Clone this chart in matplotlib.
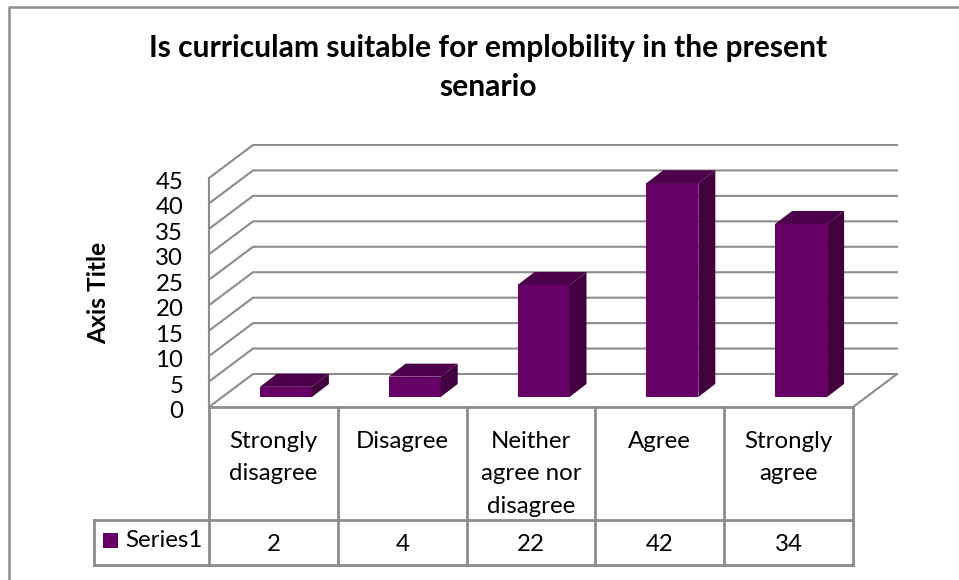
import matplotlib
matplotlib.use('Agg')
import matplotlib.pyplot as plt
from matplotlib.patches import Polygon, Rectangle
from matplotlib.transforms import ScaledTranslation

# Chart data
categories = ['Strongly\ndisagree', 'Disagree', 'Neither\nagree nor\ndisagree', 'Agree', 'Strongly\nagree']
values = [2, 4, 22, 42, 34]
series_name = 'Series1'
y_ticks = [0, 5, 10, 15, 20, 25, 30, 35, 40, 45]

W, H = 959, 580
plt.rcParams['font.family'] = ['Lato', 'DejaVu Sans']

GRID = '#8c8c8c'
FRONT = '#660066'
SIDE = '#42003f'
TOP = '#4c004c'
FS = 17.3

fig = plt.figure(figsize=(W / 100, H / 100), dpi=100)

# page layer in pixel units for the chart frame
page = fig.add_axes([0, 0, 1, 1])
page.set_xlim(0, W)
page.set_ylim(H, 0)
page.axis('off')
# only the top and left edges of the frame are in the picture
page.plot([9, 9, W], [H, 7, 7], color=GRID, lw=1.8)

# main axes is the front plane of the 3d box
x0, x1, y0, y45 = 209, 853, 407, 178
ax = fig.add_axes([x0 / W, 1 - y0 / H, (x1 - x0) / W, (y0 - y45) / H])
ax.patch.set_alpha(0)
ax.set_xlim(0, len(values))
ax.set_ylim(0, 45)
for s in ax.spines.values():
    s.set_visible(False)
ax.set_xticks([])
ax.set_yticks(y_ticks)
ax.tick_params(axis='y', length=0, pad=18.5, labelsize=FS, labelcolor='black')
# labels sit a little below their gridline
for lab in ax.get_yticklabels():
    lab.set_transform(lab.get_transform() + ScaledTranslation(0, -2.5 / 100, fig.dpi_scale_trans))

px = len(values) / (x1 - x0)   # data units per pixel, x
py = 45 / (y0 - y45)           # data units per pixel, y
dx, dy = 44 * px, 33 * py      # depth of the box

# walls and gridlines
for t in y_ticks:
    ax.plot([0, dx, len(values) + dx], [t, t + dy, t + dy], color=GRID, lw=1.5, clip_on=False, zorder=1)
ax.plot([0, 0], [0, 45], color=GRID, lw=1.5, clip_on=False, zorder=1)
ax.plot([len(values), len(values) + dx], [0, dy], color=GRID, lw=1.5, clip_on=False, zorder=1)

# bars with fake depth
bar_w = 52 * px
base = 10 * py
bx, by = 17 * px, 13 * py
shift = 12.5 * px
for i, v in enumerate(values):
    left = i + 0.5 - bar_w / 2 + shift
    ax.bar(left, v, width=bar_w, bottom=base, align='edge', color=FRONT, zorder=3, clip_on=False)
    ax.add_patch(Polygon([(left, base + v), (left + bx, base + v + by),
                          (left + bar_w + bx, base + v + by), (left + bar_w, base + v)],
                         closed=True, fc=TOP, ec='none', zorder=3, clip_on=False))
    ax.add_patch(Polygon([(left + bar_w, base), (left + bar_w + bx, base + by),
                          (left + bar_w + bx, base + v + by), (left + bar_w, base + v)],
                         closed=True, fc=SIDE, ec='none', zorder=3, clip_on=False))

# data table drawn under the axis
row1, row2 = 520, 565
legend_left = 94
page.plot([x0, x1], [y0, y0], color=GRID, lw=2)
page.plot([legend_left, x1], [row1, row1], color=GRID, lw=2)
page.plot([legend_left, x1], [row2, row2], color=GRID, lw=2)
page.plot([legend_left, legend_left], [row1, row2], color=GRID, lw=2)
n = len(values)
cell = (x1 - x0) / n
for i in range(n + 1):
    page.plot([x0 + i * cell] * 2, [y0, row2], color=GRID, lw=2)
for i, (c, v) in enumerate(zip(categories, values)):
    cx = x0 + (i + 0.5) * cell
    # each wrapped line sits on its own baseline, 32.5 px apart
    for j, line in enumerate(c.split('\n')):
        page.text(cx, 448 + j * 32.5, line, ha='center', va='baseline', fontsize=FS)
    page.text(cx, 551, str(v), ha='center', va='baseline', fontsize=FS)
page.add_patch(Rectangle((103, 533), 15, 15, fc=FRONT, ec='none'))
page.text(125, 547, series_name, ha='left', va='baseline', fontsize=FS)

# titles
page.text(488, 57, 'Is curriculam suitable for emplobility in the present', ha='center', va='baseline',
          fontsize=21.6, fontweight='bold')
page.text(488, 96, 'senario', ha='center', va='baseline', fontsize=21.6, fontweight='bold')
page.text(99, 293, 'Axis Title', rotation=90, ha='center', va='center', fontsize=FS + 0.4, fontweight='bold')

fig.savefig('out.png', dpi=100)
